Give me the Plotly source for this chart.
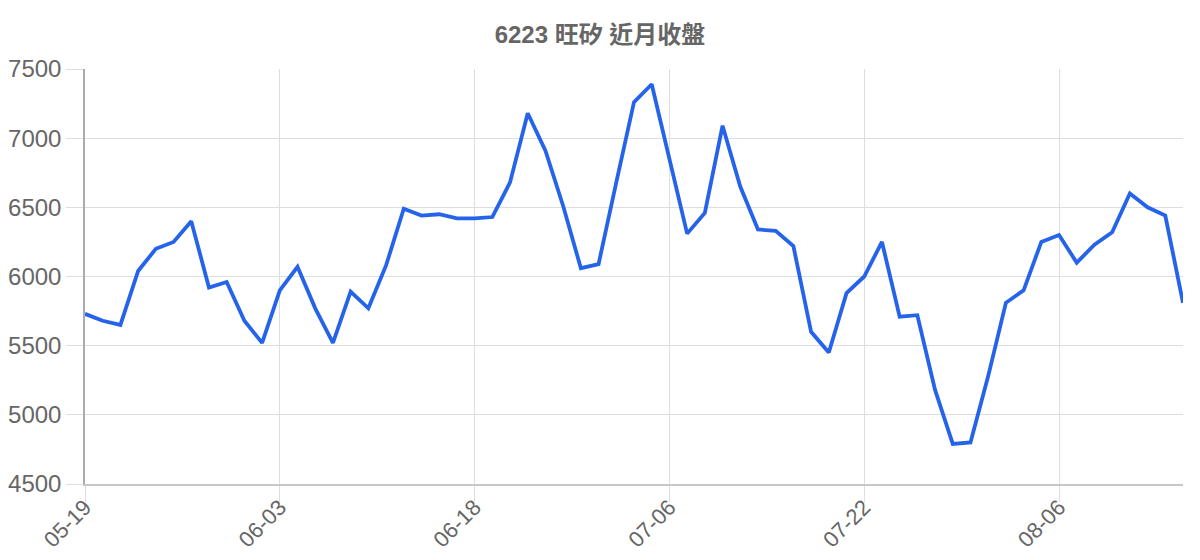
"""6223 旺矽 近月收盤 - line chart"""
import plotly.graph_objects as go

dates = [
    "05-19", "05-20", "05-21", "05-22", "05-23", "05-26", "05-27", "05-28", "05-29", "05-30", "06-02",
    "06-03", "06-04", "06-05", "06-06", "06-09", "06-10", "06-11", "06-12", "06-13", "06-16", "06-17",
    "06-18", "06-19", "06-20", "06-23", "06-24", "06-25", "06-26", "06-27", "06-30", "07-01", "07-03",
    "07-06", "07-07", "07-08", "07-09", "07-10", "07-11", "07-14", "07-15", "07-16", "07-17", "07-21",
    "07-22", "07-23", "07-24", "07-25", "07-28", "07-29", "07-30", "07-31", "08-01", "08-04", "08-05",
    "08-06", "08-07", "08-08", "08-11", "08-12", "08-13", "08-14", "08-15",
]
closes = [
    5730, 5680, 5650, 6040, 6200, 6250, 6400, 5920, 5960, 5680, 5520,
    5900, 6070, 5770, 5520, 5890, 5770, 6080, 6490, 6440, 6450, 6420,
    6420, 6430, 6680, 7180, 6910, 6510, 6060, 6090, 6680, 7260, 7390,
    6860, 6310, 6460, 7090, 6650, 6340, 6330, 6220, 5600, 5450, 5880,
    6000, 6250, 5710, 5720, 5180, 4790, 4800, 5280, 5810, 5900, 6250,
    6300, 6100, 6230, 6320, 6600, 6500, 6440, 5810,
]
shown_ticks = ["05-19", "06-03", "06-18", "07-06", "07-22", "08-06"]
y_ticks = [4500, 5000, 5500, 6000, 6500, 7000, 7500]

FONT = "Liberation Sans, Arial, Noto Sans CJK TC, sans-serif"
GRID = "#dedede"

# the page adds an 8px body margin, so the figure is 16px smaller than the window
W, H = 1184, 544

fig = go.Figure(go.Scatter(
    x=dates,
    y=closes,
    mode="lines",
    line=dict(color="#2563eb", width=3.8),
    hoverinfo="x+y",
))

fig.update_layout(
    width=W,
    height=H,
    margin=dict(l=77, r=9, t=61, b=68),
    paper_bgcolor="white",
    plot_bgcolor="white",
    showlegend=False,
    title=dict(
        text="<b>6223 旺矽 近月收盤</b>",
        x=0.5, xanchor="center",
        y=1 - 27 / H, yanchor="middle",
        font=dict(family=FONT, size=24, color="#666666"),
    ),
)

fig.update_xaxes(
    type="category",
    range=[0, len(dates) - 1],
    tickvals=shown_ticks,
    ticktext=shown_ticks,
    tickangle=-45,
    ticks="outside",
    ticklen=16,
    tickcolor=GRID,
    ticklabelstandoff=-16,
    showgrid=True,
    gridcolor=GRID,
    showline=True,
    linecolor="#c8c8c8",
    linewidth=1.5,
    zeroline=False,
    automargin=False,
    tickfont=dict(family=FONT, size=22, color="#666666"),
)

fig.update_yaxes(
    range=[4500, 7500],
    tickvals=y_ticks,
    ticks="outside",
    ticklen=17,
    tickcolor=GRID,
    showgrid=True,
    gridcolor=GRID,
    showline=True,
    linecolor="#aaaaaa",
    linewidth=1.5,
    zeroline=False,
    automargin=False,
    tickfont=dict(family=FONT, size=24, color="#666666"),
)

fig.write_html("out.html")
